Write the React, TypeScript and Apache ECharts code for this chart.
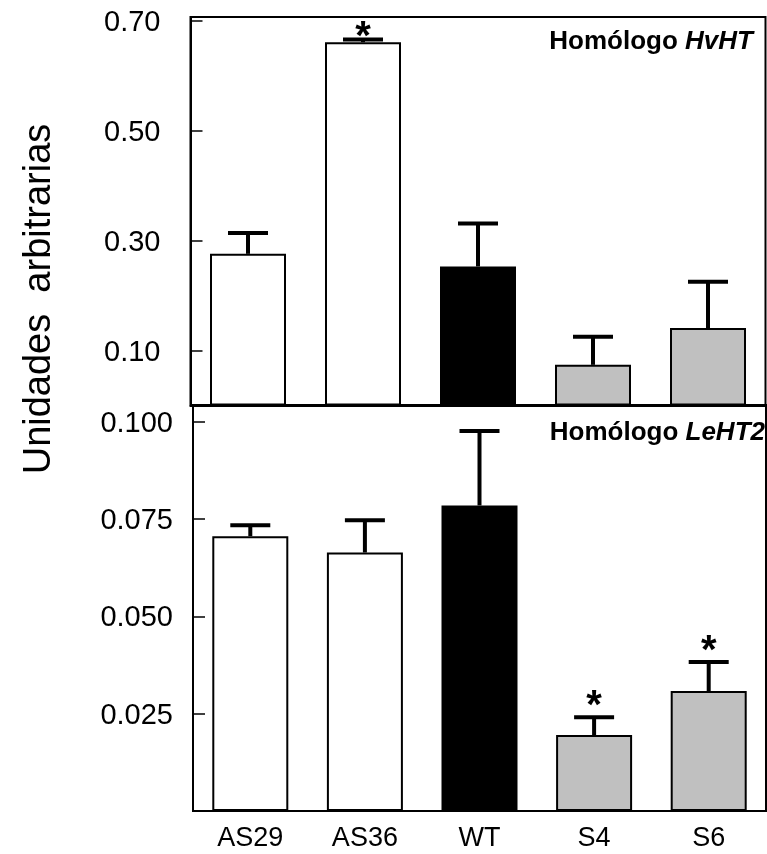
import React, { useEffect, useRef } from "react";
import * as echarts from "echarts";

const categories = ["AS29", "AS36", "WT", "S4", "S6"];
const hvhtMeans = [0.276, 0.661, 0.253, 0.074, 0.141];
const hvhtErrors = [0.038, 0.005, 0.078, 0.051, 0.084];
const hvhtSignificant = [0, 1, 0, 0, 0];
const leht2Means = [0.0706, 0.0664, 0.0785, 0.0195, 0.0308];
const leht2Errors = [0.0028, 0.0083, 0.0191, 0.0046, 0.0075];
const leht2Significant = [0, 0, 0, 1, 1];
const barColors = ["#ffffff", "#ffffff", "#000000", "#c0c0c0", "#c0c0c0"];
const hvhtTicks = [0.1, 0.3, 0.5, 0.7];
const leht2Ticks = [0.025, 0.05, 0.075, 0.1];

const FONT = "'Liberation Sans', Arial, Helvetica, sans-serif";

function errorRenderer(starOffset: number) {
  return (params: any, api: any) => {
    const i = api.value(0);
    const mean = api.value(1);
    const err = api.value(2);
    const sig = api.value(3);
    const base = api.coord([i, mean]);
    const top = api.coord([i, mean + err]);
    const children: any[] = [
      {
        type: "line",
        shape: { x1: base[0], y1: base[1], x2: top[0], y2: top[1] },
        style: { stroke: "#000", lineWidth: 4 },
      },
      {
        type: "line",
        shape: { x1: top[0] - 20, y1: top[1], x2: top[0] + 20, y2: top[1] },
        style: { stroke: "#000", lineWidth: 4 },
      },
    ];
    if (sig) {
      children.push({
        type: "text",
        x: top[0],
        y: top[1] - starOffset,
        style: {
          text: "*",
          fontSize: 40,
          fontWeight: "bold",
          fontFamily: FONT,
          align: "center",
          verticalAlign: "middle",
          fill: "#000",
        },
      });
    }
    return { type: "group", children };
  };
}

export default function App() {
  const ref = useRef<HTMLDivElement>(null);
  useEffect(() => {
    if (!ref.current) return;
    const chart = echarts.init(ref.current, null, { renderer: "svg" });
    const barData = (means: number[]) =>
      means.map((v, i) => ({
        value: v,
        itemStyle: { color: barColors[i], borderColor: "#000", borderWidth: 2 },
      }));
    const errData = (means: number[], errs: number[], sig: number[]) =>
      means.map((v, i) => [i, v, errs[i], sig[i]]);

    const panelRich = {
      a: { fontSize: 26, fontWeight: "bold", fontFamily: FONT },
      b: { fontSize: 26, fontWeight: "bold", fontStyle: "italic", fontFamily: FONT },
    };

    chart.setOption({
      animation: false,
      textStyle: { fontFamily: FONT },
      grid: [
        {
          left: 190.5,
          top: 17,
          width: 575,
          height: 388.5,
          show: true,
          borderColor: "#000",
          borderWidth: 2,
        },
        {
          left: 193,
          top: 405,
          width: 573,
          height: 406,
          show: true,
          borderColor: "#000",
          borderWidth: 2,
        },
      ],
      xAxis: [
        {
          type: "category",
          gridIndex: 0,
          data: categories,
          axisLine: { lineStyle: { color: "#000", width: 2 } },
          axisTick: { show: false },
          axisLabel: { show: false },
        },
        {
          type: "category",
          gridIndex: 1,
          data: categories,
          axisLine: { lineStyle: { color: "#000", width: 2 } },
          axisTick: { show: false },
          axisLabel: {
            color: "#000",
            fontSize: 27,
            fontFamily: FONT,
            margin: 12,
          },
        },
      ],
      yAxis: [
        {
          type: "value",
          gridIndex: 0,
          min: 0,
          max: 0.707,
          splitLine: { show: false },
          axisLine: { show: true, lineStyle: { color: "#000", width: 2 } },
          axisTick: {
            show: true,
            inside: true,
            length: 12,
            customValues: hvhtTicks,
            lineStyle: { color: "#000", width: 1.5 },
          },
          axisLabel: {
            customValues: hvhtTicks,
            formatter: (v: number) => v.toFixed(2),
            color: "#000",
            fontSize: 29,
            fontFamily: FONT,
            margin: 30,
          },
        },
        {
          type: "value",
          gridIndex: 1,
          min: 0,
          max: 0.1043,
          splitLine: { show: false },
          axisLine: { show: true, lineStyle: { color: "#000", width: 2 } },
          axisTick: {
            show: true,
            inside: true,
            length: 12,
            customValues: leht2Ticks,
            lineStyle: { color: "#000", width: 1.5 },
          },
          axisLabel: {
            customValues: leht2Ticks,
            formatter: (v: number) => v.toFixed(3),
            color: "#000",
            fontSize: 29,
            fontFamily: FONT,
            margin: 20,
          },
        },
      ],
      graphic: [
        {
          type: "text",
          x: 37,
          y: 299,
          rotation: Math.PI / 2,
          style: {
            text: "Unidades  arbitrarias",
            fontSize: 38,
            fontFamily: FONT,
            align: "center",
            verticalAlign: "middle",
            fill: "#000",
          },
        },
        {
          type: "text",
          x: 753,
          y: 40,
          style: {
            text: "{a|Homólogo }{b|HvHT}",
            align: "right",
            verticalAlign: "middle",
            fill: "#000",
            rich: panelRich,
          },
        },
        {
          type: "text",
          x: 765,
          y: 431,
          style: {
            text: "{a|Homólogo }{b|LeHT2}",
            align: "right",
            verticalAlign: "middle",
            fill: "#000",
            rich: panelRich,
          },
        },
      ],
      series: [
        {
          type: "bar",
          xAxisIndex: 0,
          yAxisIndex: 0,
          barWidth: 76,
          data: barData(hvhtMeans),
          z: 2,
        },
        {
          type: "custom",
          xAxisIndex: 0,
          yAxisIndex: 0,
          renderItem: errorRenderer(5),
          data: errData(hvhtMeans, hvhtErrors, hvhtSignificant),
          encode: { x: 0, y: 1 },
          z: 3,
          clip: false,
        },
        {
          type: "bar",
          xAxisIndex: 1,
          yAxisIndex: 1,
          barWidth: 76,
          data: barData(leht2Means),
          z: 2,
        },
        {
          type: "custom",
          xAxisIndex: 1,
          yAxisIndex: 1,
          renderItem: errorRenderer(13),
          data: errData(leht2Means, leht2Errors, leht2Significant),
          encode: { x: 0, y: 1 },
          z: 3,
          clip: false,
        },
      ],
    });
    return () => chart.dispose();
  }, []);
  return (
    <div
      ref={ref}
      style={{ position: "fixed", left: 0, top: 0, width: 767, height: 854 }}
    />
  );
}
